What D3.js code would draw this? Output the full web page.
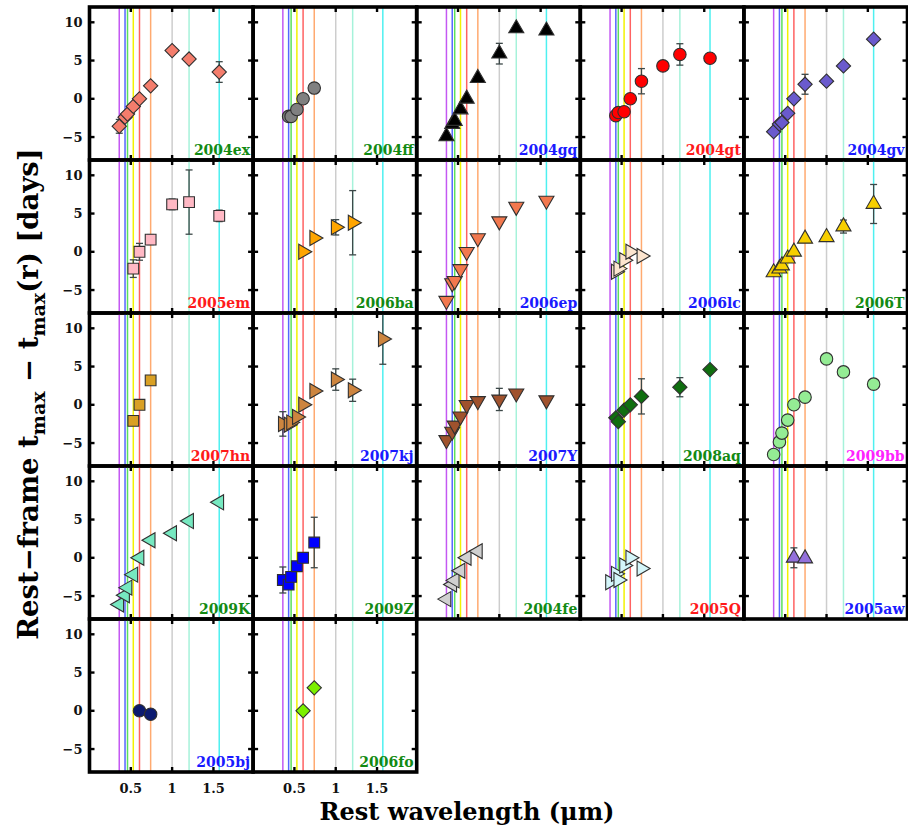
<!DOCTYPE html>
<html>
<head>
<meta charset="utf-8">
<script src="https://cdn.jsdelivr.net/npm/d3@7"></script>
<style>
  html, body { margin: 0; padding: 0; background: #fff; }
  svg { display: block; }
  text { font-family: "DejaVu Serif", "Liberation Serif", serif; font-weight: bold; }
</style>
</head>
<body>
<svg id="chart" width="908" height="832"></svg>
<script>
// Filter bands and their rest-frame effective wavelengths (µm)
const bands = ["u", "B", "g", "V", "r", "i", "Y", "J", "H"];
const bandWavelengths = [0.36, 0.43, 0.46, 0.53, 0.605, 0.74, 1.0, 1.205, 1.57];
const bandLineColors = ["#c458f2", "#5566ff", "#5ce05c", "#f2f200", "#ff6262", "#ffaa70", "#cdcdcd", "#a6f2da", "#4ef0f0"];

// Supernovae, one per panel (row-major order)
const supernovae = ["2004ex", "2004ff", "2004gq", "2004gt", "2004gv",
                    "2005em", "2006ba", "2006ep", "2006lc", "2006T",
                    "2007hn", "2007kj", "2007Y", "2008aq", "2009bb",
                    "2009K", "2009Z", "2004fe", "2005Q", "2005aw",
                    "2005bj", "2006fo"];
const labelColors = ["#138a13", "#138a13", "#1a1aff", "#ff1a1a", "#1a1aff",
                     "#ff1a1a", "#138a13", "#1a1aff", "#1a1aff", "#138a13",
                     "#ff1a1a", "#1a1aff", "#1a1aff", "#138a13", "#ff22ff",
                     "#138a13", "#138a13", "#138a13", "#ff1a1a", "#1a1aff",
                     "#1a1aff", "#138a13"];
const markerShapes = ["diamond", "circle", "up", "circle", "diamond",
                      "square", "right", "down", "right", "up",
                      "square", "right", "down", "diamond", "circle",
                      "left", "square", "left", "right", "up",
                      "circle", "diamond"];
const markerFills = ["#f47d6c", "#808080", "#000000", "#ff0000", "#6a5acd",
                     "#ffb8c4", "#ffa500", "#f2784e", "#fce5cf", "#f7cf00",
                     "#d9a024", "#cd853f", "#a0522d", "#0f6e0f", "#94ec94",
                     "#76e8c0", "#0000ff", "#d0d0d0", "#d4f6fa", "#9370db",
                     "#0b1a70", "#7cf000"];

// Rest-frame t_max - t_max(r) in days, per band u..H (null = no measurement)
const delays = [
  [-3.6, -2.4, -2.0, -1.0, 0, 1.7, 6.3, 5.2, 3.5],
  [null, -2.3, -2.3, -1.4, 0, 1.4, null, null, null],
  [-4.9, -3.3, -2.9, -1.4, 0, 2.7, 5.9, 9.2, 8.9],
  [null, -2.2, -1.8, -1.7, 0, 2.3, 4.3, 5.8, 5.3],
  [-4.3, -3.3, -3.1, -1.9, 0, 1.9, 2.3, 4.3, 7.8],
  [null, null, null, -2.2, 0, 1.6, 6.2, 6.5, 4.7],
  [null, null, null, null, 0, 1.8, 3.2, 3.8, null],
  [-6.4, -4.1, -3.8, -2.25, 0, 1.8, 4.0, 5.9, 6.7],
  [null, -2.6, -2.2, -1.1, 0, -0.55, null, null, null],
  [-2.7, -2.2, -1.8, -0.9, 0, 1.7, 1.9, 3.3, 6.25],
  [null, null, null, -2.1, 0, 3.2, null, null, null],
  [-2.5, -2.6, -2.3, -1.6, 0, 1.8, 3.3, 1.9, 8.6],
  [-4.6, -3.5, -2.7, -1.5, 0, 0.5, 0.7, 1.5, 0.6],
  [null, -1.7, -2.2, -0.7, 0, 1.1, null, 2.3, 4.6],
  [-6.5, -4.85, -3.7, -2.0, 0, 1.0, 6.0, 4.3, 2.7],
  [-6.1, -4.9, -3.9, -2.2, 0, 2.3, 3.2, 4.8, 7.25],
  [-2.9, -3.5, -2.5, -1.1, 0, 2.0, null, null, null],
  [-5.4, -3.5, -2.95, -1.7, 0, 0.85, null, null, null],
  [-3.2, -2.1, -2.9, -1.0, 0, -1.4, null, null, null],
  [null, null, null, null, 0, -0.1, null, null, null],
  [null, null, null, null, 0, -0.45, null, null, null],
  [null, null, null, null, 0, 3.0, null, null, null]
];
// Symmetric 1-sigma uncertainties (days); null = no error bar drawn
const delayErrors = [
  [0.9, null, null, null, null, null, null, null, 1.35],
  [null, null, null, null, null, null, null, null, null],
  [null, null, null, null, null, null, 1.35, null, null],
  [null, null, null, null, null, 1.65, null, 1.4, null],
  [null, null, null, null, null, 1.3, null, null, null],
  [null, null, null, 1.15, 1.1, 0.65, 0.7, 4.2, 0.75],
  [null, null, null, null, null, null, 1.0, 4.2, null],
  [null, null, null, null, null, null, null, null, null],
  [null, null, null, null, null, null, null, null, null],
  [null, null, null, null, null, null, null, 0.85, 2.55],
  [null, null, null, null, null, null, null, null, null],
  [1.6, null, null, null, null, null, 1.4, 1.45, 3.3],
  [null, null, null, null, null, null, 1.45, null, null],
  [null, null, null, null, null, 2.3, null, 1.25, null],
  [null, null, null, null, null, null, null, null, null],
  [0.4, null, null, null, null, null, null, null, null],
  [1.7, null, null, null, null, 3.3, null, null, null],
  [null, null, null, null, null, null, null, null, null],
  [null, null, null, null, null, null, null, null, null],
  [null, null, null, null, 1.3, null, null, null, null],
  [null, null, null, null, null, null, null, null, null],
  [null, null, null, null, null, null, null, null, null]
];

const yTickValues = [-5, 0, 5, 10];
const xTickValues = [0.5, 1, 1.5];
const xTickLabels = ["0.5", "1", "1.5"];

// ---- layout ----
const nCols = 5;
const gridLeft = 89.5, gridTop = 7;
const panelW = 163.6, panelH = 153;
const xDomain = [0, 1.98], yDomain = [-8, 12];

const svg = d3.select("#chart");

const symbolFor = {
  circle: { type: d3.symbolCircle, size: 122, rotate: 0 },
  square: { type: d3.symbolSquare, size: 116, rotate: 0 },
  diamond: { type: d3.symbolSquare, size: 102, rotate: 45 },
  up: { type: d3.symbolTriangle, size: 98, rotate: 0 },
  down: { type: d3.symbolTriangle, size: 98, rotate: 180 },
  right: { type: d3.symbolTriangle, size: 98, rotate: 90 },
  left: { type: d3.symbolTriangle, size: 98, rotate: -90 }
};

supernovae.forEach((name, k) => {
  const col = k % nCols, row = Math.floor(k / nCols);
  const x0 = gridLeft + col * panelW, y0 = gridTop + row * panelH;
  const x = d3.scaleLinear().domain(xDomain).range([x0, x0 + panelW]);
  const y = d3.scaleLinear().domain(yDomain).range([y0 + panelH, y0]);

  const g = svg.append("g").attr("class", "panel");

  // filter wavelength guide lines
  g.selectAll("line.band")
    .data(bandWavelengths)
    .join("line")
    .attr("class", "band")
    .attr("x1", d => x(d)).attr("x2", d => x(d))
    .attr("y1", y0).attr("y2", y0 + panelH)
    .attr("stroke", (d, i) => bandLineColors[i])
    .attr("stroke-width", 1.5);

  const pts = bands.map((b, i) => ({ w: bandWavelengths[i], v: delays[k][i], e: delayErrors[k][i] }))
                   .filter(d => d.v !== null);

  // error bars
  const eb = pts.filter(d => d.e !== null);
  const capW = 3.5;
  const ebg = g.selectAll("g.err").data(eb).join("g").attr("class", "err")
    .attr("stroke", "#3c4848").attr("stroke-width", 1.3);
  ebg.append("line")
    .attr("x1", d => x(d.w)).attr("x2", d => x(d.w))
    .attr("y1", d => y(d.v - d.e)).attr("y2", d => y(d.v + d.e));
  ebg.append("line")
    .attr("x1", d => x(d.w) - capW).attr("x2", d => x(d.w) + capW)
    .attr("y1", d => y(d.v - d.e)).attr("y2", d => y(d.v - d.e));
  ebg.append("line")
    .attr("x1", d => x(d.w) - capW).attr("x2", d => x(d.w) + capW)
    .attr("y1", d => y(d.v + d.e)).attr("y2", d => y(d.v + d.e));

  // markers
  const sym = symbolFor[markerShapes[k]];
  g.selectAll("path.pt").data(pts).join("path")
    .attr("class", "pt")
    .attr("d", d3.symbol().type(sym.type).size(sym.size))
    .attr("transform", d => `translate(${x(d.w)},${y(d.v)}) rotate(${sym.rotate})`)
    .attr("fill", markerFills[k])
    .attr("stroke", "#303030")
    .attr("stroke-width", 1.1);

  // supernova name
  g.append("text")
    .attr("x", x0 + panelW - 3)
    .attr("y", y0 + panelH - 5)
    .attr("text-anchor", "end")
    .attr("font-size", 14)
    .attr("fill", labelColors[k])
    .text(name);

  // inner tick marks on all four sides
  const tk = 5;
  const ticks = g.append("g").attr("stroke", "#000").attr("stroke-width", 2.4);
  yTickValues.forEach(v => {
    ticks.append("line").attr("x1", x0).attr("x2", x0 + tk).attr("y1", y(v)).attr("y2", y(v));
    ticks.append("line").attr("x1", x0 + panelW - tk).attr("x2", x0 + panelW).attr("y1", y(v)).attr("y2", y(v));
  });
  xTickValues.forEach(v => {
    ticks.append("line").attr("x1", x(v)).attr("x2", x(v)).attr("y1", y0).attr("y2", y0 + tk);
    ticks.append("line").attr("x1", x(v)).attr("x2", x(v)).attr("y1", y0 + panelH - tk).attr("y2", y0 + panelH);
  });

  // panel frame
  g.append("rect")
    .attr("x", x0).attr("y", y0).attr("width", panelW).attr("height", panelH)
    .attr("fill", "none").attr("stroke", "#000").attr("stroke-width", 3.6);

  // y tick labels on the first column
  if (col === 0) {
    g.selectAll("text.ytl").data(yTickValues).join("text")
      .attr("class", "ytl")
      .attr("x", x0 - 7)
      .attr("y", d => y(d))
      .attr("dy", "0.36em")
      .attr("text-anchor", "end")
      .attr("font-size", 13)
      .attr("fill", "#111")
      .text(d => d < 0 ? "\u2212" + Math.abs(d) : d);
  }
  // x tick labels under the last row
  if (row === Math.floor((supernovae.length - 1) / nCols)) {
    g.selectAll("text.xtl").data(xTickValues).join("text")
      .attr("class", "xtl")
      .attr("x", d => x(d))
      .attr("y", y0 + panelH + 21)
      .attr("text-anchor", "middle")
      .attr("font-size", 13)
      .attr("fill", "#111")
      .text((d, i) => xTickLabels[i]);
  }
});

// axis titles
svg.append("text")
  .attr("x", 467).attr("y", 820)
  .attr("text-anchor", "middle")
  .attr("font-size", 24)
  .attr("fill", "#000")
  .text("Rest wavelength (\u03bcm)");

const yt = svg.append("text")
  .attr("transform", "translate(38,394) rotate(-90)")
  .attr("text-anchor", "middle")
  .attr("font-size", 27.5)
  .attr("fill", "#000");
yt.append("tspan").text("Rest\u2212frame t");
yt.append("tspan").attr("font-size", 19).attr("dy", 7).text("max");
yt.append("tspan").attr("dy", -7).text(" \u2212 t");
yt.append("tspan").attr("font-size", 19).attr("dy", 7).text("max");
yt.append("tspan").attr("dy", -7).text("(r) [days]");
</script>
</body>
</html>
